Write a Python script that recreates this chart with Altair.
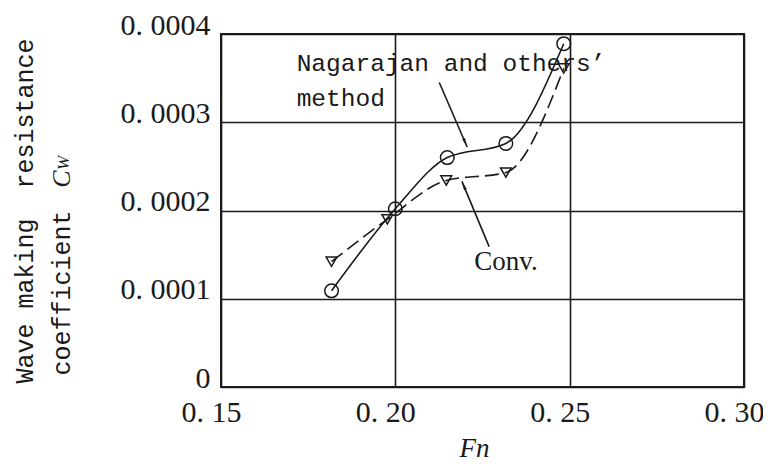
import altair as alt
import pandas as pd

# Data
fn_values = [0.1817, 0.2000, 0.2149, 0.2317, 0.2483]
cw_nagarajan = [0.000109, 0.000202, 0.000260, 0.000276, 0.000389]
fn_conv = [0.1817, 0.1977, 0.2146, 0.2317, 0.2483]
cw_conv = [0.000142, 0.000190, 0.000234, 0.000243, 0.000361]

x_ticks = [0.15, 0.20, 0.25, 0.30]
y_ticks = [0, 0.0001, 0.0002, 0.0003, 0.0004]

# annotation arrows (data coordinates): start -> tip
arrow_x = [0.2126, 0.2269]
arrow_y = [0.000345, 0.000159]
arrow_x2 = [0.2206, 0.2191]
arrow_y2 = [0.000272, 0.000233]
arrow_angle = [156.7, 337.5]

label_text = ["Nagarajan and others\u2019", "method"]
label_x = [0.1717, 0.1717]
label_y = [0.000366, 0.000326]

conv_text = ["Conv."]
conv_x = [0.2226]
conv_y = [0.000142]

df_n = pd.DataFrame({"Fn": fn_values, "Cw": cw_nagarajan})
df_c = pd.DataFrame({"Fn": fn_conv, "Cw": cw_conv})
df_arrow = pd.DataFrame({"x": arrow_x, "y": arrow_y, "x2": arrow_x2,
                         "y2": arrow_y2, "angle": arrow_angle})
df_lab = pd.DataFrame({"t": label_text, "x": label_x, "y": label_y})
df_conv = pd.DataFrame({"t": conv_text, "x": conv_x, "y": conv_y})

INK = "#1a1a1a"
MONO = "Liberation Mono"
SERIF = "Liberation Serif"
NB = "\u00a0"

xs = alt.Scale(domain=[0.15, 0.30], nice=False, zero=False)
ys = alt.Scale(domain=[0, 0.0004], nice=False)

x_axis = alt.Axis(values=x_ticks, grid=True, ticks=False, domain=False,
                  labelExpr="replace(format(datum.value, '.2f'), '.', '. ')",
                  labelFont=SERIF, labelFontSize=30, labelColor=INK,
                  labelPadding=10, labelOffset=-10, labelFlush=False,
                  title="Fn", titleFont=SERIF, titleFontStyle="italic",
                  titleFontWeight="normal", titleFontSize=27, titleColor=INK,
                  titlePadding=8, titleX=253, gridColor=INK, gridWidth=1.6,
                  gridOpacity=1)
y_axis = alt.Axis(values=y_ticks, grid=True, ticks=False, domain=False,
                  labelExpr="datum.value == 0 ? '0' : replace(format(datum.value, '.4f'), '.', '. ')",
                  labelFont=SERIF, labelFontSize=30, labelColor=INK,
                  labelPadding=11, labelBaseline="alphabetic",
                  title=None, gridColor=INK, gridWidth=1.6, gridOpacity=1)

base_x = alt.X("Fn:Q", scale=xs, axis=x_axis)
base_y = alt.Y("Cw:Q", scale=ys, axis=y_axis)

line_n = alt.Chart(df_n).mark_line(interpolate="monotone", color=INK,
                                   strokeWidth=1.6).encode(x=base_x, y=base_y)
pts_n = alt.Chart(df_n).mark_point(shape="circle", size=185, color=INK,
                                   filled=False, strokeWidth=1.5, opacity=1
                                   ).encode(x="Fn:Q", y="Cw:Q")
line_c = alt.Chart(df_c).mark_line(interpolate="monotone", color=INK,
                                   strokeWidth=1.6, strokeDash=[14, 6]
                                   ).encode(x="Fn:Q", y="Cw:Q")
pts_c = alt.Chart(df_c).mark_point(shape="triangle-down", size=115, color=INK,
                                   filled=False, strokeWidth=1.5, opacity=1
                                   ).encode(x="Fn:Q", y="Cw:Q")

arrows = alt.Chart(df_arrow).mark_rule(color=INK, strokeWidth=1.6).encode(
    x=alt.X("x:Q", scale=xs), y=alt.Y("y:Q", scale=ys), x2="x2:Q", y2="y2:Q")
heads = alt.Chart(df_arrow).mark_point(
    shape="M0,0L0.32,1.9L-0.32,1.9Z", size=90, filled=True, color=INK,
    opacity=1, strokeWidth=0).encode(
    x=alt.X("x2:Q", scale=xs), y=alt.Y("y2:Q", scale=ys),
    angle=alt.Angle("angle:Q", scale=None))

labels = alt.Chart(df_lab).mark_text(font=MONO, fontSize=24.5, color=INK,
                                     align="left", baseline="middle").encode(
    x=alt.X("x:Q", scale=xs), y=alt.Y("y:Q", scale=ys), text="t:N")
conv = alt.Chart(df_conv).mark_text(font=SERIF, fontSize=27, color=INK,
                                    align="left", baseline="middle").encode(
    x=alt.X("x:Q", scale=xs), y=alt.Y("y:Q", scale=ys), text="t:N")

# y axis title as text (with italic C_W)
ytitle_df = pd.DataFrame({"t": ["Wave making" + NB + NB + "resistance"]})
ytitle1 = alt.Chart(ytitle_df).mark_text(font=MONO, fontSize=25, color=INK,
                                         angle=270, align="center",
                                         baseline="middle").encode(
    x=alt.value(-196), y=alt.value(177), text="t:N")
ytitle2_df = pd.DataFrame({"t": ["coefficient"]})
ytitle2 = alt.Chart(ytitle2_df).mark_text(font=MONO, fontSize=25, color=INK,
                                          angle=270, align="center",
                                          baseline="middle").encode(
    x=alt.value(-159), y=alt.value(259), text="t:N")
ytitle3_df = pd.DataFrame({"t": ["C"]})
ytitle3 = alt.Chart(ytitle3_df).mark_text(font=SERIF, fontSize=26, fontStyle="italic",
                                          color=INK, angle=270, align="center",
                                          baseline="middle").encode(
    x=alt.value(-159), y=alt.value(145), text="t:N")
ytitle4_df = pd.DataFrame({"t": ["W"]})
ytitle4 = alt.Chart(ytitle4_df).mark_text(font=SERIF, fontSize=17, fontStyle="italic",
                                          color=INK, angle=270, align="center",
                                          baseline="middle").encode(
    x=alt.value(-157), y=alt.value(129), text="t:N")

chart = alt.layer(line_n, line_c, pts_n, pts_c, arrows, heads, labels, conv,
                  ytitle1, ytitle2, ytitle3, ytitle4).properties(
    width=523, height=353,
    autosize=alt.AutoSizeParams(type="none"),
    padding={"left": 213, "top": 26, "right": 19, "bottom": 77},
    background="white",
).configure_view(stroke=INK, strokeWidth=2)

chart.save("out.html", embed_options={"renderer": "svg", "actions": False})
